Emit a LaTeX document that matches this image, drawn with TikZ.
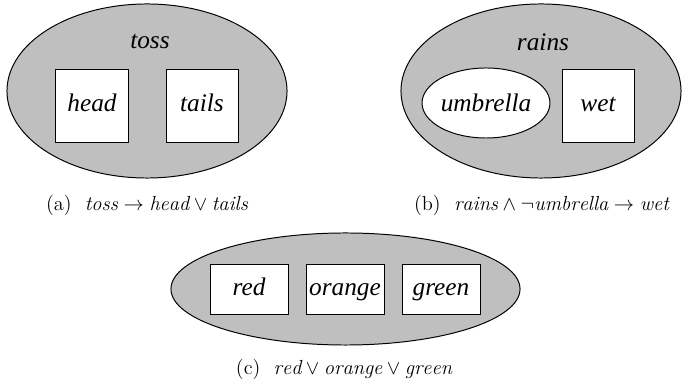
\documentclass[tikz,border=0pt]{standalone}
\usepackage{fontspec}
\usepackage{amsmath}
\usepackage{tikz}
\usetikzlibrary{shapes.geometric}
\newfontfamily\timesfam{Liberation Serif}

\begin{document}
\begin{tikzpicture}[x=0.025cm, y=0.025cm,
  outer/.style={draw=black, line width=0.7pt, fill=gray!50, ellipse, inner sep=0pt},
  inner/.style={draw=black, line width=0.7pt, fill=white, ellipse, inner sep=0pt},
  cell/.style={draw=black, line width=0.7pt, fill=white, rectangle, inner sep=0pt,
               text height=12pt, text depth=4pt},
  setname/.style={font=\timesfam\itshape\fontsize{18}{20}\selectfont},
  caption/.style={font=\fontsize{14.5}{17}\selectfont}]

  \useasboundingbox (0, 0) rectangle (684, 387);

% (a) TOSS
  \node[outer, minimum width=7cm, minimum height=4.35cm] (toss) at (147, 296) {};
  \node[setname] (tosslbl) at (150, 345) {toss};
  \node[cell, minimum size=1.8cm, setname] (head)  at ( 92, 281) {head};
  \node[cell, minimum size=1.8cm, setname] (tails) at (202, 281) {tails};
  \node[caption] (capa) at (147, 181.5) {(a)\ \ $\mathit{toss} \rightarrow \mathit{head} \vee \mathit{tails}$};

% (b) RAINS
  \node[outer, minimum width=7cm, minimum height=4.35cm] (rains) at (541, 296) {};
  \node[setname] (rainslbl) at (543, 345) {rains};
  \node[inner, minimum width=2.925cm, minimum height=1.75cm, setname] (umbrella) at (486, 284) {umbrella};
  \node[cell, minimum size=1.8cm, setname] (wet) at (598, 281) {wet};
  \node[caption] (capb) at (541.5, 181.5) {(b)\ \ $\mathit{rains} \wedge \neg \mathit{umbrella} \rightarrow \mathit{wet}$};

% (c) LIGHTS
  \node[outer, minimum width=8.725cm, minimum height=2.8cm] (light) at (345.5, 98) {};
  \foreach \n/\x in {red/249, orange/345, green/441}
    \node[cell, minimum width=1.95cm, minimum height=1.225cm, setname] (\n) at (\x, 97.5) {\n};
  \node[caption] (capc) at (344, 18) {(c)\ \ $\mathit{red} \vee \mathit{orange} \vee \mathit{green}$};

\end{tikzpicture}
\end{document}
